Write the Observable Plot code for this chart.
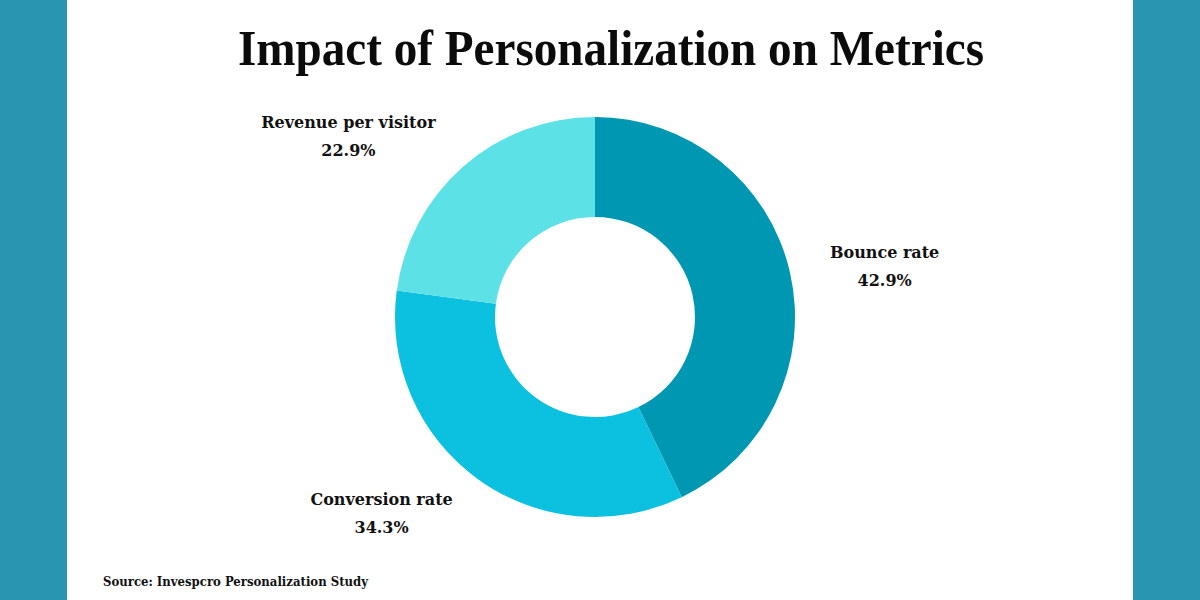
<!DOCTYPE html>
<html>
<head>
<meta charset="utf-8">
<script src="https://cdn.jsdelivr.net/npm/d3@7"></script>
<script src="https://cdn.jsdelivr.net/npm/@observablehq/plot@0.6"></script>
<style>
  html, body { margin: 0; padding: 0; }
  body { width: 1200px; height: 600px; background: #2a95ae; position: relative; overflow: hidden; }
  #panel { position: absolute; left: 67px; top: 0; width: 1066px; height: 600px; background: #ffffff; }
  #title { position: absolute; top: 23px; left: 0; white-space: nowrap; margin: 0;
           font-family: "Liberation Serif", serif; font-weight: bold; font-size: 50px; line-height: 50px; color: #0b0b0b;
           transform-origin: 0 0; }
  #chart { position: absolute; left: 0; top: 95px; }
  #source { position: absolute; top: 574px; left: 36px; white-space: nowrap;
            font-family: "DejaVu Serif", serif; font-weight: bold; font-size: 12px; line-height: 16px; color: #111;
            transform-origin: 0 0; }
</style>
</head>
<body>
<div id="panel">
  <div id="title">Impact of Personalization on Metrics</div>
  <div id="chart"></div>
  <div id="source">Source: Invespcro Personalization Study</div>
</div>
<script>
// ---- data ----
const categories = ["Bounce rate", "Conversion rate", "Revenue per visitor"];
const shares = [42.9, 34.3, 22.9];
const colors = ["#0097b2", "#0cc0df", "#5ce1e6"];

// ---- label layout (polar, in units of outer radius; angle clockwise from 12 o'clock) ----
const labelAngle = [80, 227.4, 306.1];
const labelRadius = [1.468, 1.453, 1.529];
const innerRatio = 0.5;

const rows = categories.map((name, i) => {
  const a = labelAngle[i] * Math.PI / 180;
  return { name, value: shares[i], color: colors[i],
           lx: labelRadius[i] * Math.sin(a), ly: labelRadius[i] * Math.cos(a) };
});

const arcs = d3.pie().sort(null).value(d => d.value)(rows);

function donut(...args) {
  const scales = args.find(a => a && typeof a.x === "function" && typeof a.y === "function");
  const cx = scales.x(0), cy = scales.y(0), R = scales.x(1) - scales.x(0);
  const arc = d3.arc().innerRadius(R * innerRatio).outerRadius(R);
  const g = d3.create("svg:g").attr("transform", `translate(${cx},${cy})`);
  g.selectAll("path").data(arcs).join("path")
    .attr("d", arc)
    .attr("fill", d => d.data.color);
  return g.node();
}

const W = 1066, H = 470, R = 200, CX = 528, CY = 222;
const chart = Plot.plot({
  width: W, height: H, margin: 0,
  style: { background: "transparent", overflow: "visible" },
  x: { domain: [-CX / R, (W - CX) / R], axis: null },
  y: { domain: [-(H - CY) / R, CY / R], axis: null },
  marks: [
    donut,
    Plot.text(rows, { x: "lx", y: "ly", text: "name", dy: -14,
      fontFamily: "DejaVu Serif", fontWeight: "bold", fontSize: 16, fill: "#111" }),
    Plot.text(rows, { x: "lx", y: "ly", text: d => d.value.toFixed(1) + "%", dy: 14,
      fontFamily: "DejaVu Serif", fontWeight: "bold", fontSize: 16, fill: "#111" })
  ]
});
document.getElementById("chart").appendChild(chart);

// fit title & source to reference widths
function fit(el, targetW, centerX) {
  const w = el.getBoundingClientRect().width;
  const s = targetW / w;
  el.style.transform = `scaleX(${s})`;
  if (centerX !== undefined) el.style.left = (centerX - targetW / 2) + "px";
}
fit(document.getElementById("title"), 746, 611 - 67);
fit(document.getElementById("source"), 265);
</script>
</body>
</html>
